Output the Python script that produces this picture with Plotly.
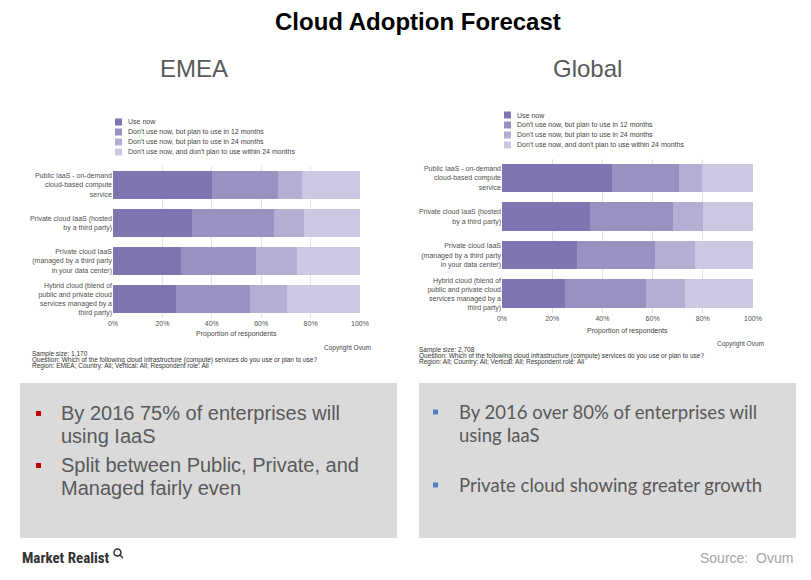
import plotly.graph_objects as go

W, H = 811, 580

categories = [
    "Public IaaS - on-demand<br>cloud-based compute<br>service",
    "Private cloud IaaS (hosted<br>by a third party)",
    "Private cloud IaaS<br>(managed by a third party<br>in your data center)",
    "Hybrid cloud (blend of<br>public and private cloud<br>services managed by a<br>third party)",
]
series_names = [
    "Use now",
    "Don't use now, but plan to use in 12 months",
    "Don't use now, but plan to use in 24 months",
    "Don't use now, and don't plan to use within 24 months",
]
emea_use_now = [40, 32, 27.5, 25.5]
emea_plan_12 = [27, 33, 30.5, 30]
emea_plan_24 = [9.5, 12.5, 16.5, 15]
emea_no_plan = [23.5, 22.5, 25.5, 29.5]

global_use_now = [44, 35, 30, 25]
global_plan_12 = [26.5, 33, 31, 32.5]
global_plan_24 = [9, 12, 16, 15.5]
global_no_plan = [20.5, 20, 23, 27]

tick_values = [0, 20, 40, 60, 80, 100]
tick_labels = ["0%", "20%", "40%", "60%", "80%", "100%"]

colors = ["#8075b1", "#9a91c2", "#b4add4", "#cdc8e2"]

emea_series = [emea_use_now, emea_plan_12, emea_plan_24, emea_no_plan]
global_series = [global_use_now, global_plan_12, global_plan_24, global_no_plan]


def px(x):
    return x / W


def py(y):
    return 1 - y / H


fig = go.Figure()
for name, vals, col in zip(series_names, emea_series, colors):
    fig.add_trace(go.Bar(x=vals, y=categories, orientation="h", name=name,
                         marker=dict(color=col, line=dict(width=0)),
                         xaxis="x", yaxis="y", showlegend=False, hoverinfo="x+name"))
for name, vals, col in zip(series_names, global_series, colors):
    fig.add_trace(go.Bar(x=vals, y=categories, orientation="h", name=name,
                         marker=dict(color=col, line=dict(width=0)),
                         xaxis="x2", yaxis="y2", showlegend=False, hoverinfo="x+name"))

small = dict(family="Liberation Sans, Arial, sans-serif", size=7, color="#505050")
xcommon = dict(range=[0, 100], tickvals=tick_values, ticktext=tick_labels,
               showgrid=True, gridcolor="#e2e2e2", gridwidth=1, zeroline=False,
               showline=False, ticks="", tickfont=small, fixedrange=True, automargin=False)
ycommon = dict(autorange="reversed", showgrid=False, zeroline=False, showline=False,
               ticks="", tickfont=small, fixedrange=True, automargin=False)

fig.update_layout(
    width=W, height=H,
    margin=dict(l=0, r=0, t=0, b=0, pad=0, autoexpand=False),
    paper_bgcolor="white", plot_bgcolor="white",
    barmode="stack", bargap=0.26,
    xaxis=dict(domain=[px(113), px(360)], anchor="y", **xcommon),
    yaxis=dict(domain=[py(318), py(166)], anchor="x", **ycommon),
    xaxis2=dict(domain=[px(502), px(753)], anchor="y2", **xcommon),
    yaxis2=dict(domain=[py(313), py(158.7)], anchor="x2", **ycommon),
    showlegend=False,
)

ann = []
shapes = []

def text(x, y, s, size, color="#333333", xanchor="center", family="Liberation Sans, Arial, sans-serif", bold=False):
    ann.append(dict(x=px(x), y=py(y), xref="paper", yref="paper", text=("<b>%s</b>" % s) if bold else s,
                    showarrow=False, xanchor=xanchor, yanchor="middle",
                    font=dict(family=family, size=size, color=color)))

def rect(x0, y0, x1, y1, color):
    shapes.append(dict(type="rect", xref="paper", yref="paper", x0=px(x0), x1=px(x1),
                       y0=py(y1), y1=py(y0), fillcolor=color, line=dict(width=0), layer="below"))

# titles
text(418, 21, "Cloud Adoption Forecast", 24, "#000000", bold=True)
text(194, 68, "EMEA", 24, "#595959")
text(587, 68, "Global", 24, "#595959")

# manual legends
for i, (name, col) in enumerate(zip(series_names, colors)):
    yc = 122 + 10 * i
    shapes.append(dict(type="rect", xref="paper", yref="paper", x0=px(115), x1=px(122),
                       y0=py(yc + 3.5), y1=py(yc - 3.5), fillcolor=col, line=dict(width=0)))
    text(126, yc, name, 7, "#444444", xanchor="left")
    yc2 = 115 + 10 * i
    shapes.append(dict(type="rect", xref="paper", yref="paper", x0=px(504), x1=px(511),
                       y0=py(yc2 + 3.5), y1=py(yc2 - 3.5), fillcolor=col, line=dict(width=0)))
    text(515, yc2, name, 7, "#444444", xanchor="left")

# axis titles
text(236.5, 334, "Proportion of respondents", 7, "#444444")
text(627.5, 331, "Proportion of respondents", 7, "#444444")

# copyright & footnotes
text(373, 348, "Copyright Ovum", 6.5, "#444444", xanchor="right")
text(766, 344, "Copyright Ovum", 6.5, "#444444", xanchor="right")
q = "Question: Which of the following cloud infrastructure (compute) services do you use or plan to use?"
text(30, 354, "Sample size: 1,170", 6.5, "#333333", xanchor="left")
text(30, 360, q, 6.5, "#333333", xanchor="left")
text(30, 366, "Region: EMEA; Country: All; Vertical: All; Respondent role: All", 6.5, "#333333", xanchor="left")
text(417, 350, "Sample size: 2,708", 6.5, "#333333", xanchor="left")
text(417, 356, q, 6.5, "#333333", xanchor="left")
text(417, 361.5, "Region: All; Country: All; Vertical: All; Respondent role: All", 6.5, "#333333", xanchor="left")

# bullet boxes
rect(20, 383, 397, 538, "#dadada")
rect(419, 383, 796, 538, "#dadada")

f1 = "Liberation Sans, Arial, sans-serif"
text(59, 413, "By 2016 75% of enterprises will", 20, "#595959", xanchor="left", family=f1)
text(59, 436, "using IaaS", 20, "#595959", xanchor="left", family=f1)
text(59, 465, "Split between Public, Private, and", 20, "#595959", xanchor="left", family=f1)
text(59, 488, "Managed fairly even", 20, "#595959", xanchor="left", family=f1)
shapes.append(dict(type="rect", xref="paper", yref="paper", x0=px(36), x1=px(41), y0=py(416), y1=py(411),
                   fillcolor="#c00000", line=dict(width=0)))
shapes.append(dict(type="rect", xref="paper", yref="paper", x0=px(36), x1=px(41), y0=py(468), y1=py(463),
                   fillcolor="#c00000", line=dict(width=0)))

f2 = "Lato, Carlito, Calibri, sans-serif"
text(457, 412, "By 2016 over 80% of enterprises will", 18.5, "#595959", xanchor="left", family=f2)
text(457, 435, "using IaaS", 18.5, "#595959", xanchor="left", family=f2)
text(457, 485, "Private cloud showing greater growth", 18.5, "#595959", xanchor="left", family=f2)
shapes.append(dict(type="rect", xref="paper", yref="paper", x0=px(433), x1=px(438), y0=py(414.5), y1=py(409.5),
                   fillcolor="#4f81bd", line=dict(width=0)))
shapes.append(dict(type="rect", xref="paper", yref="paper", x0=px(433), x1=px(438), y0=py(487.5), y1=py(482.5),
                   fillcolor="#4f81bd", line=dict(width=0)))

# footer
text(20, 558, "<b>Market Realist</b>", 15, "#333333", xanchor="left", family="Liberation Sans Narrow, Roboto Condensed, Roboto, sans-serif")
shapes.append(dict(type="circle", xref="paper", yref="paper", x0=px(114), x1=px(121), y0=py(556), y1=py(549),
                   line=dict(color="#333333", width=1.5)))
shapes.append(dict(type="line", xref="paper", yref="paper", x0=px(119.5), x1=px(123), y0=py(554.5), y1=py(558),
                   line=dict(color="#333333", width=1.5)))
text(795, 558, "Source:  Ovum", 14, "#a6a6a6", xanchor="right")

fig.update_layout(annotations=ann, shapes=shapes)
fig.write_html("out.html")
